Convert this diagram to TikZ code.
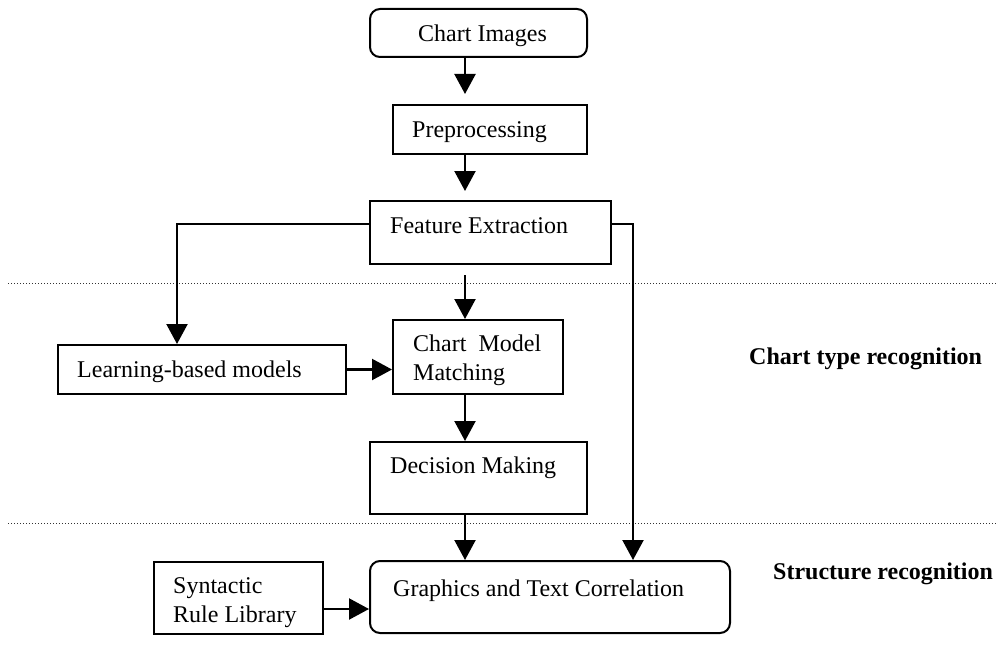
\documentclass[tikz,border=0pt]{standalone}
\usepackage{fontspec}
\setmainfont{Liberation Serif}
\usetikzlibrary{positioning,arrows.meta}

\begin{document}
\begin{tikzpicture}[x=1pt, y=-1pt,
    every node/.style = {font=\fontsize{24}{28.5}\selectfont},
    box/.style = {draw, line width=2pt, inner sep=0pt, anchor=north west},
    rbox/.style = {box, rounded corners=10pt},
    txt/.style = {anchor=base west, inner sep=0pt, align=left},
    head/.style = {txt, font=\fontsize{24}{28.5}\selectfont\bfseries},
    flow/.style = {draw, line width=2.2pt, -{Triangle[length=20pt,width=21pt]}},
    sep/.style = {draw=black!80, line width=1pt, dash pattern=on 1pt off 2pt}]
  \useasboundingbox (0,0) rectangle (998,666);
  % boxes
  \node (img)   [rbox, minimum width=217pt, minimum height=48pt] at (369,8)   {};
  \node (pre)   [box,  minimum width=194pt, minimum height=49pt] at (392,104) {};
  \node (feat)  [box,  minimum width=241pt, minimum height=63pt] at (369,200) {};
  \node (match) [box,  minimum width=170pt, minimum height=74pt] at (392,319) {};
  \node (learn) [box,  minimum width=288pt, minimum height=49pt] at (57,344)  {};
  \node (dec)   [box,  minimum width=217pt, minimum height=72pt] at (369,441) {};
  \node (syn)   [box,  minimum width=169pt, minimum height=72pt] at (153,561) {};
  \node (gtc)   [rbox, minimum width=360pt, minimum height=72pt] at (369,560) {};
  % texts (base = last line)
  \node (img-t)   [txt] at (418,42)  {Chart Images};
  \node (pre-t)   [txt] at (412,137) {Preprocessing};
  \node (feat-t)  [txt] at (390,233) {Feature Extraction};
  \node (match-t) [txt] at (413,380) {Chart\ \ Model\\Matching};
  \node (learn-t) [txt] at (77,377)  {Learning-based models};
  \node (dec-t)   [txt] at (390,473) {Decision Making};
  \node (syn-t)   [txt] at (173,622) {Syntactic\\Rule Library};
  \node (gtc-t)   [txt] at (393,596) {Graphics and Text Correlation};
  \node (ctype)   [head] at (749,364) {Chart type recognition};
  \node (struct)  [head] at (773,579) {Structure recognition};
  % separators
  \draw[sep] (8,283) -- (998,283);
  \draw[sep] (8,523) -- (998,523);
  % connectors
  \coordinate (axis) at (465,0);
  \coordinate (lft)  at (177,224);
  \coordinate (rgt)  at (633,224);
  \coordinate (sr)   at (0,609);
  \draw[flow, shorten >=10pt] (img.south -| axis) -- (pre.north -| axis);
  \draw[flow, shorten >=9pt]  (pre.south -| axis) -- (feat.north -| axis);
  \draw[flow, shorten <=10pt] (feat.south -| axis) -- (match.north -| axis);
  \draw[flow] (match.south -| axis) -- (dec.north -| axis);
  \draw[flow] (dec.south -| axis) -- (gtc.north -| axis);
  \draw[flow] (feat.west |- lft) -| (learn.north -| lft);
  \draw[flow] (feat.east |- rgt) -| (gtc.north -| rgt);
  \draw[flow] (learn.east) -- (learn.east -| match.west);
  \draw[flow] (syn.east |- sr) -- (gtc.west |- sr);
\end{tikzpicture}
\end{document}
